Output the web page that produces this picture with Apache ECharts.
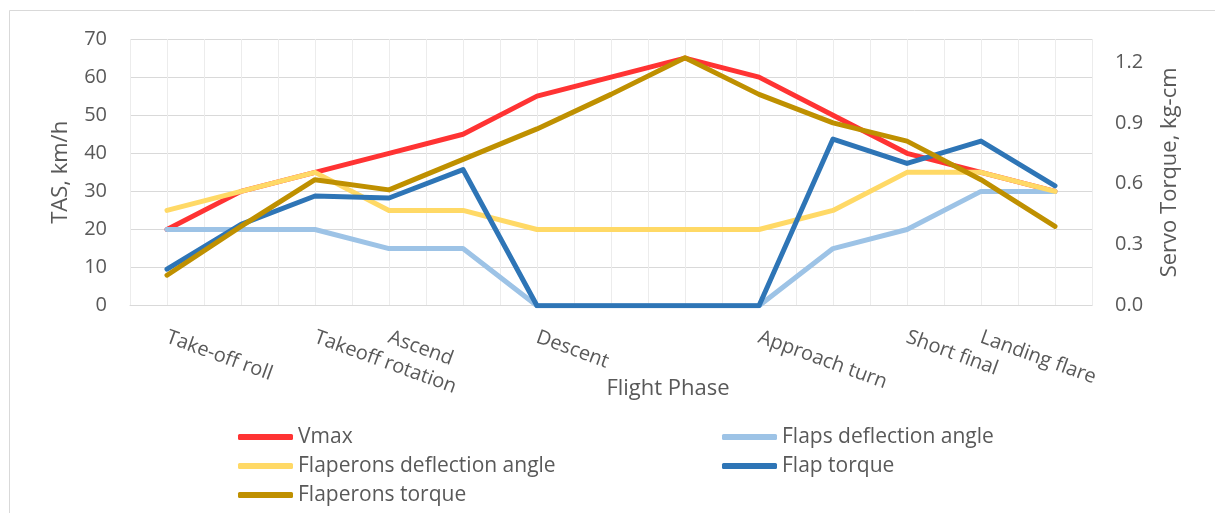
<!DOCTYPE html>
<html>
<head>
<meta charset="utf-8">
<title>Flight phase: speed, deflection and servo torque</title>
<script src="https://cdn.jsdelivr.net/npm/echarts@6/dist/echarts.min.js"></script>
<style>
  html, body { margin: 0; padding: 0; background: #ffffff; }
  #chart { width: 1215px; height: 513px; }
</style>
</head>
<body>
<div id="chart"></div>
<script>
// Flight phases along the x axis (blank entries are unlabeled steps)
const phases = ['Take-off roll', '', 'Takeoff rotation', 'Ascend', '', 'Descent', '', '', 'Approach turn', '', 'Short final', 'Landing flare', ''];

// Left axis: speed (km/h) and deflection angles
const vmax           = [20, 30, 35, 40, 45, 55, 60, 65, 60, 50, 40, 35, 30];
const flapsAngle     = [20, 20, 20, 15, 15, 0, 0, 0, 0, 15, 20, 30, 30];
const flaperonsAngle = [25, 30, 35, 25, 25, 20, 20, 20, 20, 25, 35, 35, 30];

// Right axis: servo torque (kg-cm)
const flapTorque      = [0.18, 0.40, 0.54, 0.53, 0.67, 0, 0, 0, 0, 0.82, 0.70, 0.81, 0.59];
const flaperonsTorque = [0.15, 0.39, 0.62, 0.57, 0.72, 0.87, 1.04, 1.22, 1.04, 0.90, 0.81, 0.62, 0.39];

// Axis tick settings
const leftTicks  = { min: 0, max: 70, interval: 10 };
const rightTicks = { min: 0, max: 1.3125, interval: 0.3 };

const FONT = '"Open Sans", "Noto Sans", sans-serif';
const TEXT = '#595959';
const GRID_H = '#d9d9d9';
const GRID_V = '#ececec';

function lineSeries(name, data, color, yAxisIndex, z) {
  return {
    name: name,
    type: 'line',
    data: data,
    xAxisIndex: 0,
    yAxisIndex: yAxisIndex,
    symbol: 'none',
    smooth: false,
    z: z,
    lineStyle: { color: color, width: 5, cap: 'round', join: 'round' },
    itemStyle: { color: color },
    emphasis: { disabled: true }
  };
}

const legendText = { fontFamily: FONT, fontSize: 21, color: TEXT, lineHeight: 22 };

function legendColumn(names, left) {
  return {
    data: names,
    orient: 'vertical',
    left: left, top: 426,
    width: 400, height: 200,
    padding: 0,
    itemWidth: 55, itemHeight: 6, itemGap: 7,
    icon: 'roundRect',
    textStyle: legendText,
    selectedMode: false
  };
}

const option = {
  backgroundColor: '#ffffff',
  animation: false,
  textStyle: { fontFamily: FONT },
  grid: { left: 130, right: 123, top: 39, bottom: 207.3, containLabel: false },
  graphic: [{
    type: 'rect',
    shape: { x: 9.5, y: 10.5, width: 1230, height: 530 },
    style: { fill: 'none', stroke: GRID_H, lineWidth: 1 },
    silent: true,
    z: -10
  }],
  legend: [
    legendColumn(['Vmax', 'Flaperons deflection angle', 'Flaperons torque'], 238),
    legendColumn(['Flaps deflection angle', 'Flap torque'], 722)
  ],
  xAxis: [{
    type: 'category',
    data: phases,
    boundaryGap: true,
    position: 'bottom',
    axisLine: { show: true, lineStyle: { color: GRID_H, width: 1 } },
    axisTick: { show: false },
    splitLine: { show: false },
    axisLabel: {
      interval: 0, rotate: -20, margin: 31,
      fontFamily: FONT, fontSize: 20, color: TEXT
    },
    name: 'Flight Phase',
    nameLocation: 'middle',
    nameGap: 72,
    nameMoveOverlap: false,
    nameTextStyle: { fontFamily: FONT, fontSize: 22, color: TEXT, padding: [0, 0, 0, 114] }
  }, {
    // half-category grid lines
    type: 'value',
    min: 0, max: 26, interval: 1,
    position: 'top',
    axisLine: { show: false },
    axisTick: { show: false },
    axisLabel: { show: false },
    splitLine: { show: true, lineStyle: { color: GRID_V, width: 1 } },
    z: 0
  }],
  yAxis: [{
    type: 'value',
    position: 'left',
    min: leftTicks.min, max: leftTicks.max, interval: leftTicks.interval,
    axisLine: { show: false },
    axisTick: { show: false },
    splitLine: { show: true, lineStyle: { color: GRID_H, width: 1 } },
    axisLabel: { margin: 23, fontFamily: FONT, fontSize: 20, color: TEXT },
    name: 'TAS, km/h',
    nameLocation: 'middle',
    nameGap: 58,
    nameTextStyle: { fontFamily: FONT, fontSize: 22, color: TEXT }
  }, {
    type: 'value',
    position: 'right',
    min: rightTicks.min, max: rightTicks.max, interval: rightTicks.interval,
    axisLine: { show: false },
    axisTick: { show: false },
    splitLine: { show: false },
    axisLabel: {
      margin: 23, fontFamily: FONT, fontSize: 20, color: TEXT,
      showMaxLabel: false,
      formatter: function (v) { return v.toFixed(1); }
    },
    name: 'Servo Torque, kg-cm',
    nameLocation: 'middle',
    nameGap: 67,
    nameTextStyle: { fontFamily: FONT, fontSize: 22, color: TEXT }
  }],
  series: [
    lineSeries('Vmax', vmax, '#ff3333', 0, 2),
    lineSeries('Flaps deflection angle', flapsAngle, '#9dc3e6', 0, 3),
    lineSeries('Flaperons deflection angle', flaperonsAngle, '#ffd966', 0, 4),
    lineSeries('Flap torque', flapTorque, '#2e75b6', 1, 5),
    lineSeries('Flaperons torque', flaperonsTorque, '#bf9000', 1, 6)
  ]
};

const chart = echarts.init(document.getElementById('chart'), null, { renderer: 'canvas' });
chart.setOption(option);
</script>
</body>
</html>
